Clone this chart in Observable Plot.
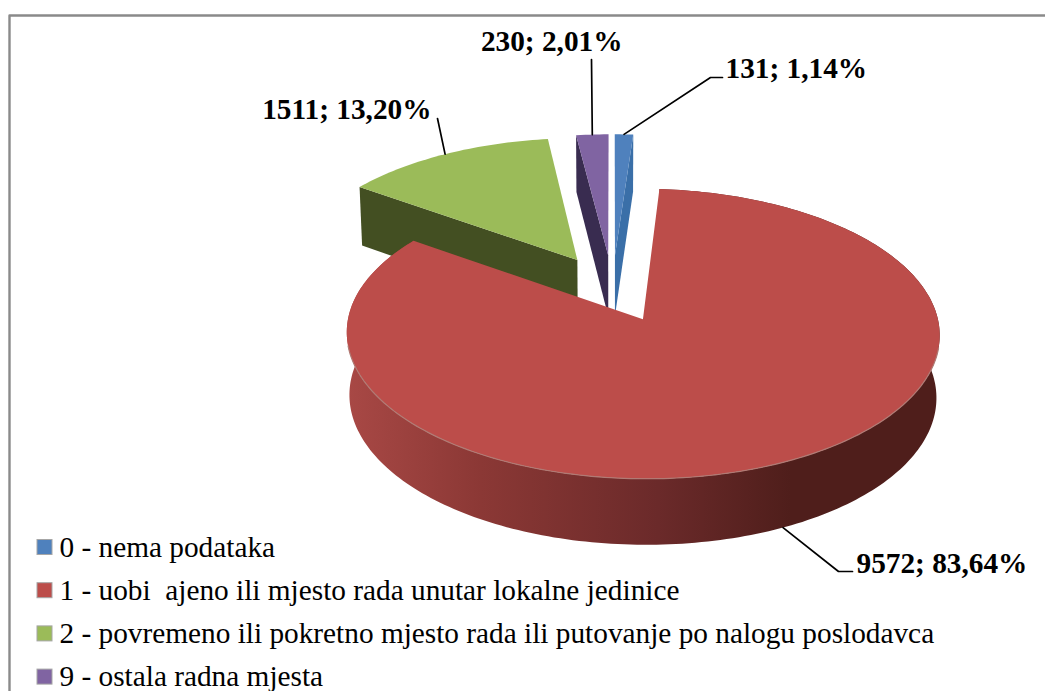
<!DOCTYPE html>
<html>
<head>
<meta charset="utf-8">
<style>html,body{margin:0;padding:0;background:#fff;overflow:hidden}svg{display:block}</style>
<script src="https://cdn.jsdelivr.net/npm/d3@7"></script>
<script src="https://cdn.jsdelivr.net/npm/@observablehq/plot@0.6"></script>
</head>
<body>
<div id="chart"></div>
<script>
// Data
const codes = ["0", "1", "2", "9"];
const legendLabels = [
  "0 - nema podataka",
  "1 - uobi  ajeno ili mjesto rada unutar lokalne jedinice",
  "2 - povremeno ili pokretno mjesto rada ili putovanje po nalogu poslodavca",
  "9 - ostala radna mjesta"
];
const counts = [131, 9572, 1511, 230];
const percents = ["1,14%", "83,64%", "13,20%", "2,01%"];
const topColors = ["#4f81bd", "#bc4d4a", "#9bbb59", "#8064a2"];
const sideColors = ["#3a6fa8", "url(#redSide)", "#434f22", "#392c50"];

// Pseudo-3D projection settings
const W = 1045, H = 691;
const cx = 612, cy = 287.7, RX = 290, RY = 139.5, k = 0.1, explode = 0.24;
const radiusX = [1, 0.995, 1, 1];
const radiusY = [1, 0.985, 1, 1];
const total = d3.sum(counts);

function project(U, V, down) {
  const w = 1 - k * V;
  const s = down ? 0.99 : 1;
  return {x: cx + s * RX * U / w, y: cy + RY * V / w + (down ? 61.5 + 3.75 * V : 0)};
}
let acc = 0;
const slices = counts.map((c, i) => {
  const a0 = acc / total * 2 * Math.PI;
  acc += c;
  const a1 = acc / total * 2 * Math.PI;
  const m = (a0 + a1) / 2;
  return {i, a0, a1, m, rx: radiusX[i], ry: radiusY[i], ex: explode * Math.sin(m), ey: -explode * Math.cos(m)};
});
const rim = (s, a, down) => project(s.ex + s.rx * Math.sin(a), s.ey - s.ry * Math.cos(a), down);
const apex = (s, down) => project(s.ex, s.ey, down);
const arc = (s, down) => {
  const n = Math.max(2, Math.ceil((s.a1 - s.a0) / 0.02));
  return d3.range(n + 1).map(j => rim(s, s.a0 + (s.a1 - s.a0) * j / n, down));
};

const faces = [];
const addFace = (pts, fill) => { const id = faces.length; pts.forEach(p => faces.push({...p, id, fill})); };
const [blue, red, green, purple] = slices;
// back slices first, front slice last
addFace([rim(green, green.a0), rim(green, green.a0, true), apex(green, true), apex(green)], sideColors[2]);
addFace([apex(green), ...arc(green)], topColors[2]);
addFace([rim(purple, purple.a0), rim(purple, purple.a0, true), apex(purple, true), apex(purple)], sideColors[3]);
addFace([apex(purple), ...arc(purple)], topColors[3]);
addFace([rim(blue, blue.a1), rim(blue, blue.a1, true), apex(blue, true), apex(blue)], sideColors[0]);
addFace([apex(blue), ...arc(blue)], topColors[0]);
addFace([...arc(red), ...arc(red, true).reverse()], sideColors[1]);
addFace([apex(red), ...arc(red)], topColors[1]);

// Front rim highlight of the large slice
const rimLine = arc(red).filter(p => p.y > 345);

// Data labels and their leader lines
const labelPos = [
  {x: 725, y: 68, path: [{x: 710, y: 77}, {x: 722, y: 77}]},
  {x: 856, y: 563, path: [{x: 838, y: 571}, {x: 852, y: 571}]},
  {x: 431, y: 109, path: [{x: 437, y: 118}]},
  {x: 622, y: 41, path: [{x: 591, y: 59}]}
];
const labels = slices.map((s, i) => ({text: `${counts[i]}; ${percents[i]}`, x: labelPos[i].x, y: labelPos[i].y}));
const leaders = slices.flatMap((s, i) => {
  const a = rim(s, s.m, i === 1);
  return [a, ...labelPos[i].path].map(p => ({...p, id: i}));
});
const startLabels = [labels[0], labels[1]];
const endLabels = [labels[2], labels[3]];

// Legend layout
const legend = legendLabels.map((t, i) => ({
  t, color: topColors[i], x: 59, y: 547 + 43.2 * i, x1: 37, x2: 52, y1: 547 + 43.2 * i - 7.5, y2: 547 + 43.2 * i + 7.5
}));

const serif = "'Liberation Serif','Times New Roman',serif";
const labelStyle = {x: "x", y: "y", text: "text", fontFamily: serif, fontWeight: "bold", fontSize: 29.3, lineAnchor: "middle", fill: "#000"};
const chart = Plot.plot({
  width: W, height: H, margin: 0,
  x: {domain: [0, W], range: [0, W], axis: null},
  y: {domain: [0, H], range: [0, H], axis: null},
  style: {background: "#fff"},
  marks: [
    () => {
      const ns = "http://www.w3.org/2000/svg";
      const defs = document.createElementNS(ns, "defs");
      const g = document.createElementNS(ns, "linearGradient");
      g.setAttribute("id", "redSide");
      g.setAttribute("gradientUnits", "userSpaceOnUse");
      g.setAttribute("x1", 348); g.setAttribute("x2", 790); g.setAttribute("y1", 0); g.setAttribute("y2", 0);
      [[0, "#a84845"], [0.3, "#8b3835"], [0.7, "#6b2a2a"], [1, "#4f1e1b"]].forEach(([o, c]) => {
        const st = document.createElementNS(ns, "stop");
        st.setAttribute("offset", o); st.setAttribute("stop-color", c);
        g.appendChild(st);
      });
      defs.appendChild(g);
      return defs;
    },
    // frame (top and left edges)
    Plot.line([{x: 9, y: H}, {x: 9, y: 15}, {x: W, y: 15}], {x: "x", y: "y", stroke: "#8a8a8a", strokeWidth: 2.4}),
    // pie faces
    Plot.line(faces, {x: "x", y: "y", z: "id", fill: "fill", stroke: "none", curve: "linear-closed"}),
    Plot.line(rimLine, {x: "x", y: "y", stroke: "#b07a74", strokeWidth: 1.2}),
    // leader lines
    Plot.line(leaders, {x: "x", y: "y", z: "id", stroke: "#000", strokeWidth: 1.7}),
    // data labels
    Plot.text(startLabels, {...labelStyle, textAnchor: "start"}),
    Plot.text(endLabels, {...labelStyle, textAnchor: "end"}),
    // legend
    Plot.rect(legend, {x1: "x1", x2: "x2", y1: "y1", y2: "y2", fill: "color", stroke: "#a6a6a6", strokeWidth: 1}),
    Plot.text(legend, {x: "x", y: "y", text: "t", textAnchor: "start", fontFamily: serif, fontSize: 29.3, lineAnchor: "middle", fill: "#000"})
  ]
});
document.getElementById("chart").appendChild(chart);
</script>
</body>
</html>
